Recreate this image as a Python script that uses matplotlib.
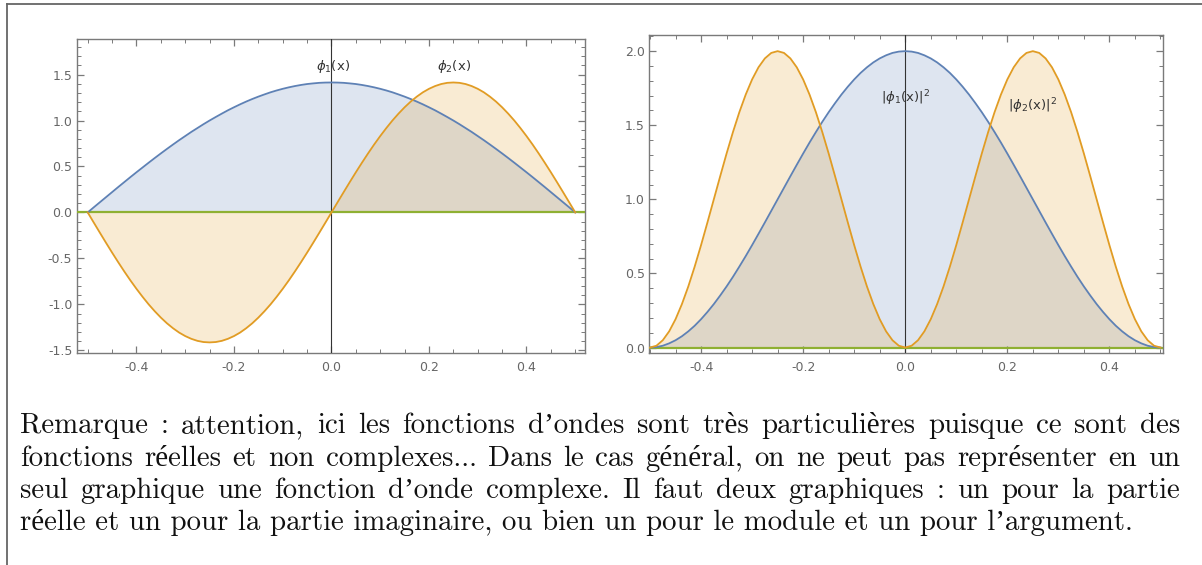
import matplotlib
matplotlib.use("Agg")
import matplotlib.pyplot as plt
from matplotlib.lines import Line2D
from matplotlib.ticker import MultipleLocator, FormatStrFormatter
import numpy as np

# sample positions on [-0.5, 0.5], step 0.0125
x = np.linspace(-0.5, 0.5, 81)

# values
phi1 = [0.000, 0.056, 0.111, 0.166, 0.221, 0.276, 0.330, 0.384, 0.437, 0.489,
        0.541, 0.592, 0.642, 0.691, 0.739, 0.786, 0.831, 0.876, 0.918, 0.960,
        1.000, 1.038, 1.075, 1.111, 1.144, 1.176, 1.206, 1.234, 1.260, 1.284,
        1.307, 1.327, 1.345, 1.361, 1.375, 1.387, 1.397, 1.404, 1.410, 1.413,
        1.414,
        1.413, 1.410, 1.404, 1.397, 1.387, 1.375, 1.361, 1.345, 1.327, 1.307,
        1.284, 1.260, 1.234, 1.206, 1.176, 1.144, 1.111, 1.075, 1.038, 1.000,
        0.960, 0.918, 0.876, 0.831, 0.786, 0.739, 0.691, 0.642, 0.592, 0.541,
        0.489, 0.437, 0.384, 0.330, 0.276, 0.221, 0.166, 0.111, 0.056, 0.000]
phi2 = [0.000, -0.111, -0.221, -0.330, -0.437, -0.541, -0.642, -0.739, -0.831, -0.918,
        -1.000, -1.075, -1.144, -1.206, -1.260, -1.307, -1.345, -1.375, -1.397, -1.410,
        -1.414, -1.410, -1.397, -1.375, -1.345, -1.307, -1.260, -1.206, -1.144, -1.075,
        -1.000, -0.918, -0.831, -0.739, -0.642, -0.541, -0.437, -0.330, -0.221, -0.111,
        0.000,
        0.111, 0.221, 0.330, 0.437, 0.541, 0.642, 0.739, 0.831, 0.918, 1.000,
        1.075, 1.144, 1.206, 1.260, 1.307, 1.345, 1.375, 1.397, 1.410, 1.414,
        1.410, 1.397, 1.375, 1.345, 1.307, 1.260, 1.206, 1.144, 1.075, 1.000,
        0.918, 0.831, 0.739, 0.642, 0.541, 0.437, 0.330, 0.221, 0.111, 0.000]

# values
phi1_sq = [0.000, 0.003, 0.012, 0.028, 0.049, 0.076, 0.109, 0.147, 0.191, 0.240,
           0.293, 0.351, 0.412, 0.477, 0.546, 0.617, 0.691, 0.767, 0.844, 0.922,
           1.000, 1.078, 1.156, 1.233, 1.309, 1.383, 1.454, 1.523, 1.588, 1.649,
           1.707, 1.760, 1.809, 1.853, 1.891, 1.924, 1.951, 1.972, 1.988, 1.997,
           2.000,
           1.997, 1.988, 1.972, 1.951, 1.924, 1.891, 1.853, 1.809, 1.760, 1.707,
           1.649, 1.588, 1.523, 1.454, 1.383, 1.309, 1.233, 1.156, 1.078, 1.000,
           0.922, 0.844, 0.767, 0.691, 0.617, 0.546, 0.477, 0.412, 0.351, 0.293,
           0.240, 0.191, 0.147, 0.109, 0.076, 0.049, 0.028, 0.012, 0.003, 0.000]
phi2_sq = [0.000, 0.012, 0.049, 0.109, 0.191, 0.293, 0.412, 0.546, 0.691, 0.844,
           1.000, 1.156, 1.309, 1.454, 1.588, 1.707, 1.809, 1.891, 1.951, 1.988,
           2.000, 1.988, 1.951, 1.891, 1.809, 1.707, 1.588, 1.454, 1.309, 1.156,
           1.000, 0.844, 0.691, 0.546, 0.412, 0.293, 0.191, 0.109, 0.049, 0.012,
           0.000,
           0.012, 0.049, 0.109, 0.191, 0.293, 0.412, 0.546, 0.691, 0.844, 1.000,
           1.156, 1.309, 1.454, 1.588, 1.707, 1.809, 1.891, 1.951, 1.988, 2.000,
           1.988, 1.951, 1.891, 1.809, 1.707, 1.588, 1.454, 1.309, 1.156, 1.000,
           0.844, 0.691, 0.546, 0.412, 0.293, 0.191, 0.109, 0.049, 0.012, 0.000]

left_labels = [r"$\phi_1$(x)", r"$\phi_2$(x)"]
right_labels = [r"$|\phi_1\mathrm{(x)}|^2$", r"$|\phi_2\mathrm{(x)}|^2$"]

remark = [
    "Remarque : attention, ici les fonctions d\u2019ondes sont tr\u00e8s particuli\u00e8res puisque ce sont des",
    "fonctions r\u00e9elles et non complexes... Dans le cas g\u00e9n\u00e9ral, on ne peut pas repr\u00e9senter en un",
    "seul graphique une fonction d\u2019onde complexe. Il faut deux graphiques : un pour la partie",
    "r\u00e9elle et un pour la partie imaginaire, ou bien un pour le module et un pour l\u2019argument.",
]

BLUE = "#5E81B5"
ORANGE = "#E19C24"
GREEN = "#8FB032"
FRAME = "#7a7a7a"

W, H = 1202, 565
fig = plt.figure(figsize=(W / 100, H / 100), dpi=100)


def style(ax, xlim, ylim, ymaj, ymin):
    ax.set_xlim(*xlim)
    ax.set_ylim(*ylim)
    ax.xaxis.set_major_locator(MultipleLocator(0.2))
    ax.xaxis.set_minor_locator(MultipleLocator(0.05))
    ax.yaxis.set_major_locator(MultipleLocator(ymaj))
    ax.yaxis.set_minor_locator(MultipleLocator(ymin))
    ax.xaxis.set_major_formatter(FormatStrFormatter("%.1f"))
    ax.yaxis.set_major_formatter(FormatStrFormatter("%.1f"))
    ax.tick_params(which="both", direction="in", top=True, right=True,
                   color=FRAME, labelcolor="#666666", labelsize=9)
    ax.tick_params(which="major", length=5, width=0.9)
    ax.tick_params(which="minor", length=2.8, width=0.7)
    ax.tick_params(axis="x", pad=6)
    ax.tick_params(axis="y", pad=3)
    for s in ax.spines.values():
        s.set_color(FRAME)
        s.set_linewidth(1.0)


def panel(ax, ya, yb):
    ax.fill_between(x, ya, 0, color=BLUE, alpha=0.2, lw=0)
    ax.fill_between(x, yb, 0, color=ORANGE, alpha=0.2, lw=0)
    ax.axvline(0, color="#333333", lw=0.8, zorder=3)
    ax.axhline(0, color=GREEN, lw=1.6, zorder=4)
    ax.plot(x, ya, color=BLUE, lw=1.3, zorder=5)
    ax.plot(x, yb, color=ORANGE, lw=1.3, zorder=5)


ax1 = fig.add_axes([76.5 / W, 1 - 352.7 / H, 508.5 / W, 313.7 / H])
panel(ax1, phi1, phi2)
style(ax1, (-0.523, 0.52), (-1.526, 1.887), 0.5, 0.1)
ax1.text(0.003, 1.585, left_labels[0], ha="center", va="center", fontsize=9.5, color="#333333", zorder=6)
ax1.text(0.251, 1.585, left_labels[1], ha="center", va="center", fontsize=9.5, color="#333333", zorder=6)

ax2 = fig.add_axes([649 / W, 1 - 352.7 / H, 514 / W, 317.7 / H])
panel(ax2, phi1_sq, phi2_sq)
style(ax2, (-0.502, 0.505), (-0.035, 2.109), 0.5, 0.1)
ax2.text(0.0, 1.68, right_labels[0], ha="center", va="center", fontsize=9.5, color="#333333", zorder=6)
ax2.text(0.25, 1.63, right_labels[1], ha="center", va="center", fontsize=9.5, color="#333333", zorder=6)

# outer frame of the page box
fig.add_artist(Line2D([7.3 / W, 7.3 / W], [0, 1 - 4 / H], transform=fig.transFigure, color="#666666", lw=1.3))
fig.add_artist(Line2D([7.3 / W, 1], [1 - 4 / H, 1 - 4 / H], transform=fig.transFigure, color="#666666", lw=1.3))

# justified remark text
font = dict(family=["cmr10", "Liberation Serif"], fontsize=20.8, color="#111111")
x0, x1 = 20, 1180
baselines = [433, 466, 498, 530]
r = fig.canvas.get_renderer()
for i, (line, yb) in enumerate(zip(remark, baselines)):
    if i == len(remark) - 1:
        fig.text(x0 / W, 1 - yb / H, line, va="baseline", **font)
        continue
    words = line.split(" ")
    ts = [fig.text(0, 1 - yb / H, w, va="baseline", **font) for w in words]
    ws = [t.get_window_extent(r).width for t in ts]
    gap = (x1 - x0 - sum(ws)) / (len(ws) - 1)
    pos = x0
    for t, w in zip(ts, ws):
        t.set_x(pos / W)
        pos += w + gap

fig.savefig("out.png", dpi=100)
